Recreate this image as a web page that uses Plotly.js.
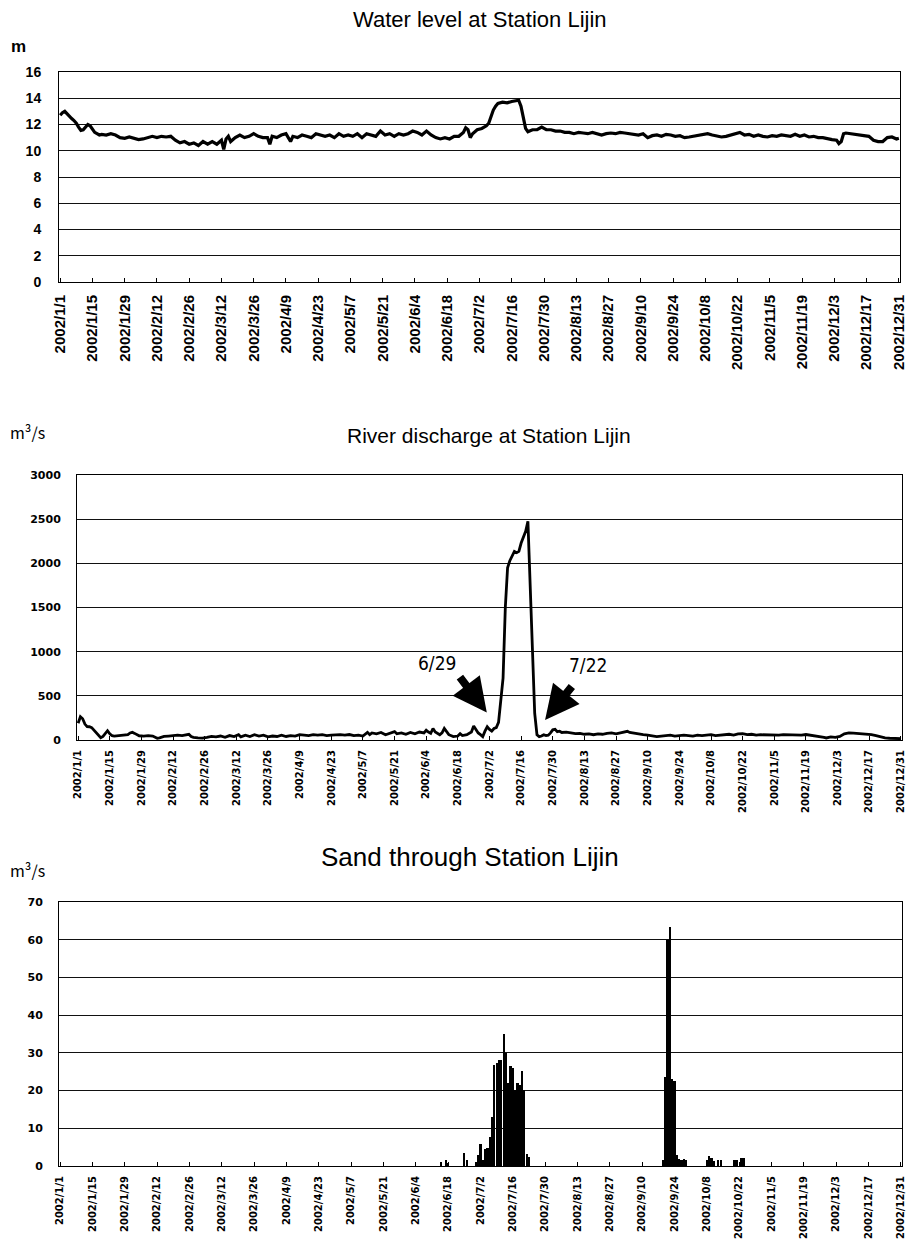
<!DOCTYPE html>
<html><head><meta charset="utf-8">
<script src="https://cdn.plot.ly/plotly-3.0.1.min.js"></script>
<style>html,body{margin:0;padding:0;background:#fff}#chart{width:907px;height:1243px}</style>
</head><body><div id="chart"></div>
<script>
const year = 2002;

// Water level (m), day-of-year offsets (0 = Jan 1)
const levelDays = [0,1,2,3,4,5,6,7,8,9,10,11,12,13,14,15,16,17,18,20,22,24,26,28,30,32,34,36,38,40,42,44,46,48,50,52,54,56,58,60,62,64,66,68,70,71,72,73,74,76,78,80,82,84,86,88,90,91,92,94,96,98,100,101,103,105,107,109,111,113,115,117,119,121,123,125,127,129,131,133,135,137,139,141,143,145,147,149,151,153,155,157,159,161,163,165,167,169,171,173,175,176,177,178,179,181,183,185,186,187,188,189,190,192,194,196,198,199,200,201,202,203,205,207,209,211,213,215,217,219,221,223,225,227,229,231,233,235,237,239,241,243,245,247,249,251,253,255,257,259,261,263,265,267,269,271,273,275,277,279,281,283,285,287,289,291,293,295,297,299,301,303,305,307,309,311,313,315,317,319,321,323,325,327,329,331,333,335,337,338,339,340,341,343,345,347,349,351,353,355,357,359,361,363,364];
const levelValues = [12.7,12.9,13.0,12.8,12.6,12.45,12.3,12.1,11.8,11.55,11.6,11.85,12.0,11.9,11.6,11.4,11.3,11.2,11.25,11.2,11.3,11.2,11.0,10.95,11.05,10.95,10.85,10.9,11.0,11.1,11.0,11.1,11.05,11.1,10.8,10.6,10.7,10.5,10.6,10.4,10.7,10.5,10.7,10.5,10.8,10.1,10.9,11.1,10.7,11.0,11.2,11.0,11.1,11.3,11.1,11.0,11.0,10.5,11.1,11.0,11.2,11.3,10.7,11.1,11.0,11.2,11.1,11.0,11.3,11.2,11.1,11.2,11.0,11.3,11.1,11.2,11.1,11.3,11.0,11.3,11.2,11.1,11.5,11.2,11.3,11.1,11.3,11.2,11.3,11.5,11.4,11.2,11.5,11.2,11.0,10.9,11.0,10.9,11.1,11.1,11.4,11.75,11.6,11.0,11.3,11.6,11.7,11.9,12.1,12.6,13.1,13.4,13.6,13.7,13.65,13.75,13.8,13.85,13.4,12.6,11.7,11.45,11.6,11.6,11.8,11.6,11.6,11.5,11.5,11.4,11.4,11.3,11.4,11.35,11.3,11.4,11.3,11.2,11.3,11.35,11.3,11.4,11.35,11.3,11.3,11.2,11.3,11.0,11.15,11.2,11.1,11.25,11.2,11.1,11.15,11.0,11.05,11.1,11.15,11.2,11.3,11.2,11.1,11.05,11.1,11.2,11.35,11.4,11.2,11.25,11.1,11.2,11.1,11.05,11.15,11.1,11.2,11.15,11.1,11.25,11.1,11.2,11.05,11.1,11.0,11.0,10.9,10.85,10.8,10.55,10.7,11.3,11.35,11.3,11.3,11.25,11.2,11.1,10.8,10.7,10.7,11.0,11.05,10.9,10.95];

// River discharge (m3/s)
const dischargeDays = [0,1,2,3,4,5,6,7,8,9,10,11,12,13,14,15,16,18,20,22,23,24,25,27,29,31,33,35,36,38,40,42,44,46,48,49,50,51,53,55,57,59,61,63,65,67,69,71,72,74,76,78,80,82,84,86,88,90,92,94,96,98,100,102,104,106,108,110,112,114,116,118,120,122,124,126,127,128,129,130,132,134,136,138,140,141,143,145,147,149,151,153,154,155,156,157,158,160,161,162,163,164,166,168,169,170,172,174,175,176,177,178,179,180,181,182,183,184,185,186,187,188,189,190,191,192,193,194,195,196,197,198,199,200,201,202,203,204,205,206,207,208,209,210,211,212,213,214,216,218,220,222,224,226,228,230,232,234,236,238,240,242,243,244,246,248,250,252,254,256,258,260,262,264,266,268,270,272,274,276,278,280,282,284,286,288,290,292,294,296,298,300,302,304,306,308,310,312,314,316,318,320,322,324,326,328,330,331,333,335,337,339,341,343,345,347,349,351,353,355,357,359,361,363,364];
const dischargeValues = [190,264,240,180,151,150,140,110,80,50,25,40,80,105,70,50,45,50,48,60,80,87,75,48,45,50,45,20,25,40,45,50,55,50,58,65,40,30,25,22,30,40,35,45,30,50,38,60,35,55,40,60,45,55,35,45,40,55,40,50,45,60,55,50,60,55,60,50,55,58,60,55,62,50,55,45,70,87,60,80,70,85,60,75,95,70,80,65,85,70,90,80,110,90,75,130,90,60,80,130,90,60,38,45,72,50,60,90,159,120,80,60,38,100,150,120,100,130,140,200,491,700,1500,1950,2030,2090,2135,2120,2135,2230,2290,2362,2475,1750,1030,300,60,38,45,60,50,55,80,115,121,95,100,85,90,80,72,75,65,70,60,70,65,75,80,70,80,95,98,85,75,70,60,55,50,38,45,50,55,45,50,55,50,45,55,50,55,60,50,55,60,65,55,70,72,60,65,55,60,58,55,60,55,60,58,55,60,55,62,55,50,40,30,23,35,30,40,70,80,78,75,72,65,60,50,35,25,20,18,15,15];

// Sand through the station (m3/s), non-zero days only
const sandDays = [165,167,168,175,176,180,181,182,183,184,185,186,187,188,189,190,191,192,193,194,195,196,197,198,199,200,201,202,203,261,262,263,264,265,266,267,268,269,270,271,280,281,282,283,285,286,292,293,295,296];
const sandValues = [1.0,1.5,0.8,3.5,1.5,1.0,2.9,5.8,1.5,4.6,4.8,7.7,13,26.8,27.3,28,28.2,35,30,22,26.4,26.1,20.2,22,21.5,25.3,20.2,3.3,2.4,1.5,23.5,60,63.5,23,22.5,3,1.8,1.5,1.8,1.7,1.5,2.6,2.0,1.3,1.7,1.7,1.7,1.7,2.2,2.2];

// X tick positions and labels
const tickDays = [0,14,28,42,56,70,84,98,112,126,140,154,168,182,196,210,224,238,252,266,280,294,308,322,336,350,364];
const tickLabels = ['2002/1/1','2002/1/15','2002/1/29','2002/2/12','2002/2/26','2002/3/12','2002/3/26','2002/4/9','2002/4/23','2002/5/7','2002/5/21','2002/6/4','2002/6/18','2002/7/2','2002/7/16','2002/7/30','2002/8/13','2002/8/27','2002/9/10','2002/9/24','2002/10/8','2002/10/22','2002/11/5','2002/11/19','2002/12/3','2002/12/17','2002/12/31'];

const titles = ['Water level at Station Lijin','River discharge at Station Lijin','Sand through Station Lijin'];
const units = ['m','m³/s','m³/s'];

function toDate(d){ const t = new Date(Date.UTC(year,0,1) + d*86400000); return t.toISOString().slice(0,19).replace('T',' '); }

const tv = tickDays.map(toDate);
const xRange = ['2001-12-31 12:00','2002-12-31 12:00'];

const traces = [
  {x: levelDays.map(toDate), y: levelValues, xaxis:'x', yaxis:'y', type:'scatter', mode:'lines', line:{color:'#000', width:3.2}, hoverinfo:'skip'},
  {x: dischargeDays.map(toDate), y: dischargeValues, xaxis:'x2', yaxis:'y2', type:'scatter', mode:'lines', line:{color:'#000', width:2.8}, hoverinfo:'skip'},
  {x: sandDays.map(toDate), y: sandValues, xaxis:'x3', yaxis:'y3', type:'bar', marker:{color:'#000', line:{width:0}}, width: 86400000*0.95, hoverinfo:'skip'}
];

function xAxis(dom, anchor, fontFam, fsize, standoff){
  return {domain:dom, anchor:anchor, type:'date', range:xRange, tickmode:'array', tickvals:tv, ticktext:tickLabels,
    tickangle:-90, ticks:'inside', ticklen:4, tickcolor:'#000', showgrid:false, zeroline:false,
    showline:true, mirror:true, linecolor:'#000', linewidth:1, ticklabelstandoff:standoff,
    tickfont:{family:fontFam, size:fsize, color:'#000', weight:'bold'}, fixedrange:true};
}
function yAxis(dom, anchor, range, dtick, fontFam, fsize, standoff){
  return {domain:dom, anchor:anchor, range:range, dtick:dtick, tick0:0, showgrid:true, gridcolor:'#111', gridwidth:1,
    zeroline:false, showline:true, mirror:true, linecolor:'#000', linewidth:1, ticks:'',
    ticklabelstandoff:standoff, tickfont:{family:fontFam, size:fsize, color:'#000', weight:'bold'}, fixedrange:true};
}

const H = 1243, W = 907;
const ax1 = 'Liberation Sans, Arial, sans-serif';
const ax2 = 'DejaVu Sans, sans-serif';

const layout = {
  width:W, height:H, margin:{l:0,r:0,t:0,b:0}, paper_bgcolor:'#fff', plot_bgcolor:'#fff', showlegend:false, bargap:0,
  xaxis: xAxis([59/W, 900/W], 'y', ax1, 15, 6),
  yaxis: yAxis([1-282/H, 1-72/H], 'x', [0,16], 2, ax1, 14, 14),
  xaxis2: xAxis([77/W, 902/W], 'y2', ax2, 10, 5),
  yaxis2: yAxis([1-740/H, 1-475/H], 'x2', [0,3000], 500, ax2, 11, 13),
  xaxis3: xAxis([59/W, 902/W], 'y3', ax2, 10, 5),
  yaxis3: yAxis([1-1166/H, 1-902/H], 'x3', [0,70], 10, ax2, 11, 13),
  annotations: [
    {xref:'paper', yref:'paper', x:480/W, y:1-19/H, text:titles[0], showarrow:false, xanchor:'center', yanchor:'middle', font:{family:ax1, size:22, color:'#000'}},
    {xref:'paper', yref:'paper', x:489/W, y:1-435/H, text:titles[1], showarrow:false, xanchor:'center', yanchor:'middle', font:{family:ax1, size:21, color:'#000'}},
    {xref:'paper', yref:'paper', x:470/W, y:1-857/H, text:titles[2], showarrow:false, xanchor:'center', yanchor:'middle', font:{family:ax1, size:26, color:'#000'}},
    {xref:'paper', yref:'paper', x:18/W, y:1-46/H, text:units[0], showarrow:false, xanchor:'center', yanchor:'middle', font:{family:'Liberation Sans, sans-serif', size:17, color:'#000', weight:'bold'}},
    {xref:'paper', yref:'paper', x:27/W, y:1-432/H, text:units[1], showarrow:false, xanchor:'center', yanchor:'middle', font:{family:'Noto Sans CJK JP, sans-serif', size:16, color:'#000'}},
    {xref:'paper', yref:'paper', x:27/W, y:1-870/H, text:units[2], showarrow:false, xanchor:'center', yanchor:'middle', font:{family:'Noto Sans CJK JP, sans-serif', size:16, color:'#000'}},
    {xref:'paper', yref:'paper', x:437/W, y:1-663/H, text:'6/29', showarrow:false, xanchor:'center', yanchor:'middle', font:{family:'Liberation Sans Narrow, DejaVu Sans Condensed, sans-serif', size:19, color:'#000'}},
    {xref:'paper', yref:'paper', x:588/W, y:1-665/H, text:'7/22', showarrow:false, xanchor:'center', yanchor:'middle', font:{family:'Liberation Sans Narrow, DejaVu Sans Condensed, sans-serif', size:19, color:'#000'}},
    {xref:'x2', yref:'y2', x:'2002-06-30 19:00', y:310, ax:-28, ay:-37, text:'', showarrow:true, arrowhead:2, arrowsize:0.85, arrowwidth:8, arrowcolor:'#000'},
    {xref:'x2', yref:'y2', x:'2002-07-26 14:00', y:227, ax:28, ay:-35, text:'', showarrow:true, arrowhead:2, arrowsize:0.85, arrowwidth:8, arrowcolor:'#000'}
  ]
};

Plotly.newPlot('chart', traces, layout, {staticPlot:true, displayModeBar:false});
</script>
</body></html>
